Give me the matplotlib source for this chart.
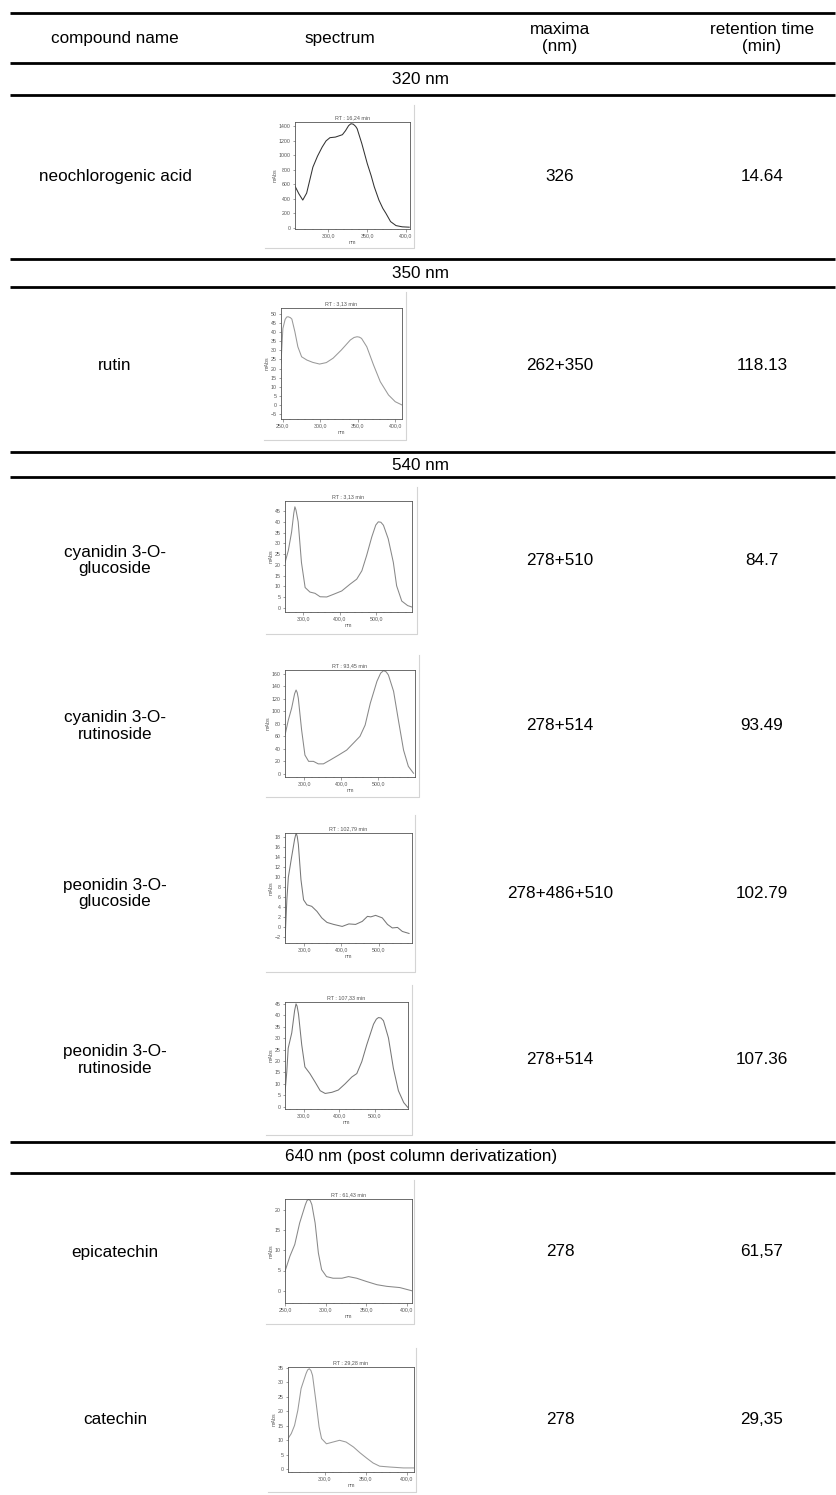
import matplotlib
matplotlib.use("Agg")
import matplotlib.pyplot as plt
from matplotlib.ticker import FixedLocator, MultipleLocator, FuncFormatter

plt.rcParams['font.family'] = ['Liberation Sans', 'DejaVu Sans']

# ---------------- table content ----------------
headers = ["compound name", "spectrum", "maxima\n(nm)", "retention time\n(min)"]
sections = ["320 nm", "350 nm", "540 nm", "640 nm (post column derivatization)"]
compounds = ["neochlorogenic acid", "rutin", "cyanidin 3-O-\nglucoside",
             "cyanidin 3-O-\nrutinoside", "peonidin 3-O-\nglucoside",
             "peonidin 3-O-\nrutinoside", "epicatechin", "catechin"]
maxima = ["326", "262+350", "278+510", "278+514", "278+486+510", "278+514", "278", "278"]
ret_times = ["14.64", "118.13", "84.7", "93.49", "102.79", "107.36", "61,57", "29,35"]
spec_titles = ["RT : 16,24 min", "RT : 3,13 min", "RT : 3,13 min", "RT : 93,45 min",
               "RT : 102,79 min", "RT : 107,33 min", "RT : 61,43 min", "RT : 29,28 min"]

# ---------------- spectra (wavelength nm, absorbance mAbs) ----------------
wl_neo = [257, 262, 267, 272, 280, 286, 292, 297, 302, 309, 318, 322, 326, 329, 332, 335, 337, 343, 350, 355, 359, 365, 370, 374, 380, 387, 395, 404]
ab_neo = [576, 470, 384, 480, 837, 990, 1115, 1200, 1244, 1252, 1285, 1340, 1410, 1436, 1430, 1400, 1367, 1162, 887, 720, 567, 384, 270, 201, 87, 32, 15, 10]

wl_rut = [247.5, 250, 253, 255, 257, 260, 262, 266, 270, 275, 282, 290, 299, 308, 317, 328, 340, 345, 349, 352, 355, 362, 371, 380, 391, 400, 409]
ab_rut = [23, 42, 47, 48.3, 48.5, 48, 47.2, 40.3, 32, 26.5, 24.7, 23.4, 22.5, 23.3, 25.7, 30.2, 35.7, 37.1, 37.5, 37.3, 36.6, 32, 22, 12.8, 5.5, 1.8, 0]

wl_cg = [250, 259, 268, 274, 277, 280, 286, 295, 305, 318, 332, 346, 364, 382, 405, 428, 446, 460, 473, 487, 498, 505, 512, 519, 532, 546, 555, 569, 585, 597]
ab_cg = [21, 26.6, 35.2, 44, 47, 45.5, 40, 21, 9.4, 7.3, 6.7, 5.1, 5, 6.2, 7.8, 11, 13.3, 17.2, 24.3, 32.9, 38.5, 40, 39.8, 38.4, 32.1, 21.1, 10.2, 3.1, 1, 0.3]

wl_cr = [248, 257, 266, 274, 278, 281, 284, 293, 302, 312, 325, 338, 352, 370, 393, 415, 438, 451, 465, 479, 497, 507, 515, 522, 528, 542, 555, 569, 582, 596]
ab_cr = [62, 86, 105, 128, 134, 130, 121, 70, 30, 20, 20, 16, 16, 22, 30, 38, 52, 60, 78, 113, 148, 161, 165, 163, 158, 132, 86, 38, 12, 1]

wl_pg = [248, 253, 257, 266, 274, 278, 281, 284, 291, 298, 307, 320, 334, 347, 361, 379, 402, 420, 438, 456, 470, 479, 492, 510, 524, 537, 551, 564, 582]
ab_pg = [-2.8, 5.4, 9.9, 14, 17.5, 18.7, 18, 16.4, 9.4, 5.4, 4.4, 4.1, 3.1, 1.8, 0.9, 0.5, 0.1, 0.6, 0.5, 1.1, 2.1, 2.0, 2.3, 1.8, 0.5, -0.2, -0.1, -0.9, -1.3]

wl_pr = [247, 252, 256, 266, 274, 278, 281, 285, 294, 303, 317, 332, 346, 360, 379, 397, 416, 435, 449, 463, 477, 496, 504, 510, 517, 524, 538, 552, 566, 581, 593]
ab_pr = [6.3, 15.2, 25.6, 32.3, 42, 45, 44, 40.5, 27.1, 17.4, 14.5, 10.7, 7, 5.8, 6.3, 7.3, 10, 13, 14.5, 19.7, 27.1, 36.1, 38.3, 39, 38.8, 37.6, 30.1, 16.7, 7, 1.8, -0.4]

wl_epi = [250, 256, 262, 268, 275, 277, 279, 281, 283, 287, 291, 295, 301, 309, 320, 328, 338, 350, 363, 375, 391, 406]
ab_epi = [4.8, 8.5, 11.4, 16.7, 21.2, 22.2, 22.5, 22.2, 21.2, 16.7, 9.3, 5.2, 3.5, 3.1, 3.1, 3.5, 3.1, 2.3, 1.5, 1.1, 0.8, 0]

wl_cat = [255, 259, 263, 267, 271, 277, 279, 281, 283, 285, 289, 293, 296, 302, 310, 318, 326, 335, 343, 351, 359, 367, 380, 396, 409]
ab_cat = [10.6, 12.3, 15.1, 20.3, 27.8, 32.9, 34.2, 34.6, 34, 32.3, 23.7, 14.6, 10.6, 8.8, 9.4, 10, 9.4, 7.7, 5.7, 3.9, 2.2, 1.1, 0.8, 0.5, 0.5]

spectra_wl = [wl_neo, wl_rut, wl_cg, wl_cr, wl_pg, wl_pr, wl_epi, wl_cat]
spectra_ab = [ab_neo, ab_rut, ab_cg, ab_cr, ab_pg, ab_pr, ab_epi, ab_cat]

xticks_list = [[300, 350, 400], [250, 300, 350, 400], [300, 400, 500, 600], [300, 400, 500],
               [300, 400, 500], [300, 400, 500], [250, 300, 350, 400], [300, 350, 400]]
yticks_list = [list(range(0, 1401, 200)), list(range(-5, 51, 5)), list(range(0, 46, 5)),
               list(range(0, 161, 20)), list(range(-2, 19, 2)), list(range(0, 46, 5)),
               list(range(0, 21, 5)), list(range(0, 36, 5))]

# ---------------- layout (pixels) ----------------
W, H = 837, 1495
fig = plt.figure(figsize=(W / 100, H / 100), dpi=100)
bg = fig.add_axes([0, 0, 1, 1])
bg.set_xlim(0, W)
bg.set_ylim(H, 0)
bg.axis('off')

xlims = [(257, 405), (247.5, 409), (250, 597), (248, 600), (248, 590), (247, 593), (250, 406), (255, 409)]
ylims = [(-15, 1460), (-7.7, 53.3), (-2, 49.7), (-5, 166), (-3.2, 18.7), (-1, 45.8), (-3, 22.6), (-0.9, 35.2)]
frames = [(295, 122, 410, 229), (281, 308, 402, 419), (285, 501, 412, 612), (285, 670, 415, 777),
          (285, 833, 412, 943), (285, 1002, 408, 1109), (285, 1199, 412, 1303), (288, 1367, 414, 1472)]
outers = [(265, 105, 414, 248), (264, 292, 406, 440), (266, 487, 417, 634), (266, 655, 419, 797),
          (266, 815, 415, 972), (266, 985, 412, 1135), (266, 1180, 414, 1324), (268, 1348, 416, 1492)]
line_colors = ['#333333', '#999999', '#888888', '#888888', '#777777', '#777777', '#888888', '#999999']
minor_x = [10, 10, 20, 20, 20, 20, 10, 10]

rules = [13, 63, 95, 259, 287, 452, 477, 1142, 1173]
section_y = [79, 273, 465, 1157]
col_x = [115, 340, 560, 762]
FS = 12.3

for y in rules:
    bg.plot([10, 835], [y, y], color='black', lw=2.0, solid_capstyle='butt')

for i, h in enumerate(headers):
    bg.text(col_x[i], 38, h, ha='center', va='center', fontsize=FS, linespacing=1.2)
for s, y in zip(sections, section_y):
    bg.text(421, y, s, ha='center', va='center', fontsize=FS)

def fmt(v, pos):
    return f"{v:.1f}".replace('.', ',')

for i in range(len(compounds)):
    ol, ot, orr, ob = outers[i]
    bg.plot([orr, orr, ol], [ot, ob, ob], color='#d4d4d4', lw=0.8)
    cy = (ot + ob) / 2
    bg.text(col_x[0], cy, compounds[i], ha='center', va='center', fontsize=FS, linespacing=1.15)
    bg.text(col_x[2], cy, maxima[i], ha='center', va='center', fontsize=FS)
    bg.text(col_x[3], cy, ret_times[i], ha='center', va='center', fontsize=FS)

    l, t, r, b = frames[i]
    ax = fig.add_axes([l / W, 1 - b / H, (r - l) / W, (b - t) / H])
    ax.plot(spectra_wl[i], spectra_ab[i], color=line_colors[i], lw=0.75)
    ax.set_xlim(*xlims[i])
    ax.set_ylim(*ylims[i])
    ax.xaxis.set_major_locator(FixedLocator(xticks_list[i]))
    ax.xaxis.set_major_formatter(FuncFormatter(fmt))
    ax.xaxis.set_minor_locator(MultipleLocator(minor_x[i]))
    ax.yaxis.set_major_locator(FixedLocator(yticks_list[i]))
    ax.tick_params(axis='both', which='major', labelsize=3.8, length=1.8, width=0.4,
                   colors='#555555', pad=1.2)
    ax.tick_params(axis='both', which='minor', length=1.0, width=0.3, colors='#555555')
    for sp in ax.spines.values():
        sp.set_color('#555555')
        sp.set_linewidth(0.6)
    ax.set_xlabel('nm', fontsize=3.8, color='#555555', labelpad=1)
    ax.set_ylabel('mAbs', fontsize=3.8, color='#555555', labelpad=1)
    ax.set_title(spec_titles[i], fontsize=3.9, color='#555555', pad=2)
    ax.set_facecolor('white')

fig.savefig('out.png', dpi=100)
